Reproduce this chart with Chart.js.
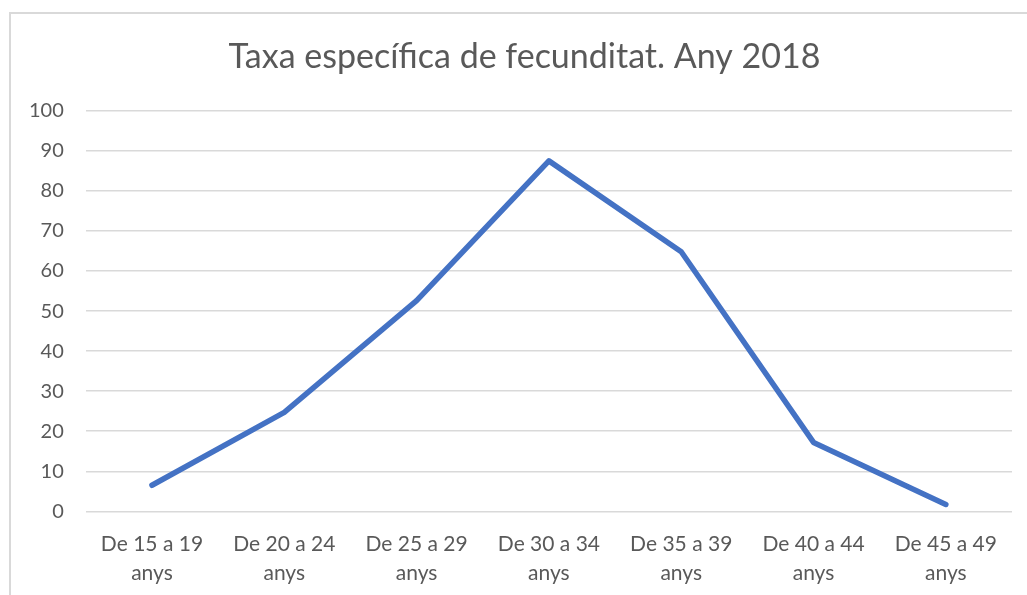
<!DOCTYPE html>
<html>
<head>
<meta charset="utf-8">
<script src="https://cdn.jsdelivr.net/npm/chart.js@4"></script>
<style>
  body { margin: 0; background: #fff; overflow: hidden; }
  #box { position: absolute; left: 9px; top: 12px; width: 1100px; height: 700px; border: 2px solid #d9d9d9; box-sizing: border-box; }
  #chart { position: absolute; left: -4px; top: 0; }
</style>
</head>
<body>
<div id="box"><canvas id="chart" width="1014" height="595"></canvas></div>
<script>
const titleText = "Taxa específica de fecunditat. Any 2018";
const ageGroups = [
  ["De 15 a 19", "anys"],
  ["De 20 a 24", "anys"],
  ["De 25 a 29", "anys"],
  ["De 30 a 34", "anys"],
  ["De 35 a 39", "anys"],
  ["De 40 a 44", "anys"],
  ["De 45 a 49", "anys"]
];
const fertilityRate = [6.5, 24.7, 52.6, 87.5, 64.8, 17.2, 1.7];
const yMin = 0, yMax = 100, yStep = 10;

const textColor = "#595959";
const gridColor = "#d9d9d9";

// the title is centred on the whole chart frame, which runs past the window
const titleShift = {
  id: "titleShift",
  afterLayout(chart) {
    if (chart.titleBlock) {
      chart.titleBlock.left += 15;
      chart.titleBlock.right += 15;
    }
  }
};

new Chart(document.getElementById("chart").getContext("2d"), {
  type: "line",
  data: {
    labels: ageGroups,
    datasets: [{
      label: "Taxa",
      data: fertilityRate,
      borderColor: "#4472c4",
      backgroundColor: "#4472c4",
      borderWidth: 5.5,
      borderCapStyle: "round",
      borderJoinStyle: "round",
      pointRadius: 0,
      tension: 0
    }]
  },
  options: {
    responsive: false,
    animation: false,
    layout: { padding: { left: 0, right: 9, top: 0, bottom: 11 } },
    plugins: {
      legend: { display: false },
      tooltip: { enabled: false },
      title: {
        display: true,
        text: titleText,
        color: textColor,
        font: { family: "Lato", size: 34, weight: "normal" },
        padding: { top: 23, bottom: 33 }
      }
    },
    scales: {
      x: {
        offset: true,
        grid: { display: false },
        border: { display: false },
        ticks: {
          color: textColor,
          font: { family: "Lato", size: 21, lineHeight: 1.35 },
          maxRotation: 0,
          padding: 11
        }
      },
      y: {
        min: yMin,
        max: yMax,
        grid: { color: gridColor, lineWidth: 1.5, drawTicks: false },
        border: { display: false },
        ticks: {
          stepSize: yStep,
          color: textColor,
          font: { family: "Lato", size: 20 },
          padding: 22
        }
      }
    }
  },
  plugins: [titleShift]
});
</script>
</body>
</html>
